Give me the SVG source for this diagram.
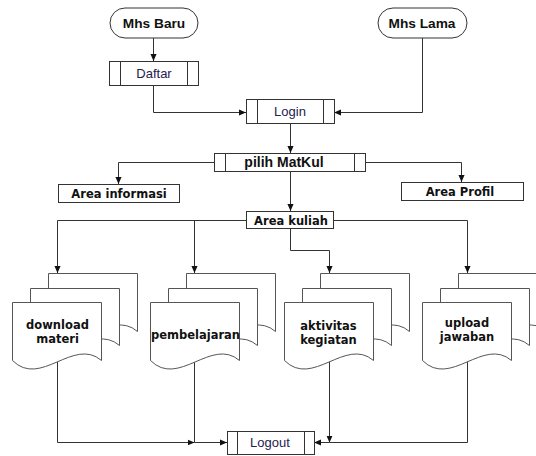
<svg xmlns="http://www.w3.org/2000/svg" width="536" height="456" viewBox="0 0 536 456">
  <style>
    .box { fill: #ffffff; stroke: #333333; stroke-width: 1; }
    .sheet { fill: #ffffff; stroke: #555555; stroke-width: 1; }
    .bar { stroke: #333333; stroke-width: 1; fill: none; }
    .wire { fill: none; stroke: #333333; stroke-width: 1; }
    .arial-b { font-family: "Liberation Sans", Arial, sans-serif; font-weight: bold; fill: #111111; text-anchor: middle; }
    .arial { font-family: "Liberation Sans", Arial, sans-serif; font-size: 13px; fill: #26204f; text-anchor: middle; }
    .deja { font-family: "DejaVu Sans", Verdana, sans-serif; font-weight: bold; font-size: 11.5px; fill: #111111; text-anchor: middle; }
  </style>
  <defs>
    <marker id="arrow" viewBox="0 0 8 8" refX="8" refY="4" markerWidth="7" markerHeight="7" markerUnits="userSpaceOnUse" orient="auto">
      <path d="M0,0.5 L8,4 L0,7.5 Z" fill="#111111"/>
    </marker>
    <!-- one stacked multi-document shape, origin at the back sheet's top-left -->
    <g id="docstack">
      <path class="sheet" d="M0,58 L0,0 L89,0 L89,58 C61,34 28,86 0,58 Z"/>
      <path class="sheet" d="M-18,72 L-18,15 L71,15 L71,72 C43,48 10,100 -18,72 Z"/>
      <path class="sheet" d="M-36,87 L-36,29 L53,29 L53,87 C25,63 -8,115 -36,87 Z"/>
    </g>
  </defs>

  <!-- connectors -->
  <g id="connectors">
    <path class="wire" d="M153.5,38 V61" marker-end="url(#arrow)"/>
    <path class="wire" d="M153.5,85 V112.5 H246" marker-end="url(#arrow)"/>
    <path class="wire" d="M422.5,38 V112.5 H334" marker-end="url(#arrow)"/>
    <path class="wire" d="M290.5,123 V153" marker-end="url(#arrow)"/>
    <path class="wire" d="M214,162.5 H118.5 V184" marker-end="url(#arrow)"/>
    <path class="wire" d="M365,162.5 H461.5 V182" marker-end="url(#arrow)"/>
    <path class="wire" d="M290.5,171 V211" marker-end="url(#arrow)"/>
    <path class="wire" d="M246,220.5 H57.5 V273" marker-end="url(#arrow)"/>
    <path class="wire" d="M194.5,220.5 V273" marker-end="url(#arrow)"/>
    <path class="wire" d="M290.5,228 V250.5 H329.5 V273" marker-end="url(#arrow)"/>
    <path class="wire" d="M334,220.5 H467.5 V273" marker-end="url(#arrow)"/>
    <path class="wire" d="M57.5,362 V442.5 H194.5" marker-end="url(#arrow)"/>
    <path class="wire" d="M194.5,360 V442.5 H227" marker-end="url(#arrow)"/>
    <path class="wire" d="M467.5,361 V442.5 H329.5"/>
    <path class="wire" d="M329.5,442.5 H314" marker-end="url(#arrow)"/>
    <path class="wire" d="M329.5,361 V442.5" marker-end="url(#arrow)"/>
  </g>

  <g id="mhs-baru">
    <rect class="box" x="110" y="8" width="88" height="30" rx="15"/>
    <text class="arial-b" x="154" y="28" font-size="13.7">Mhs Baru</text>
  </g>
  <g id="mhs-lama">
    <rect class="box" x="378" y="8" width="89" height="30" rx="15"/>
    <text class="arial-b" x="422" y="28" font-size="13.7">Mhs Lama</text>
  </g>

  <g id="daftar">
    <rect class="box" x="109.5" y="61.5" width="89" height="24"/>
    <path class="bar" d="M120.5,61.5 V85.5 M187.5,61.5 V85.5"/>
    <text class="arial" x="154" y="78">Daftar</text>
  </g>

  <g id="login">
    <rect class="box" x="246.5" y="99.5" width="88" height="24"/>
    <path class="bar" d="M257.5,99.5 V123.5 M323.5,99.5 V123.5"/>
    <text class="arial" x="290" y="116">Login</text>
  </g>

  <g id="pilih-matkul">
    <rect class="box" x="214.5" y="153.5" width="151" height="18"/>
    <path class="bar" d="M225.5,153.5 V171.5 M354.5,153.5 V171.5"/>
    <text class="arial-b" x="284" y="167" font-size="14">pilih MatKul</text>
  </g>

  <g id="area-informasi">
    <rect class="box" x="58.5" y="184.5" width="121" height="18"/>
    <text class="deja" x="119" y="198">Area informasi</text>
  </g>

  <g id="area-profil">
    <rect class="box" x="401.5" y="182.5" width="122" height="18"/>
    <text class="deja" x="460" y="196">Area Profil</text>
  </g>

  <g id="area-kuliah">
    <rect class="box" x="246.5" y="211.5" width="87" height="17"/>
    <text class="deja" x="291" y="224.5">Area kuliah</text>
  </g>

  <g id="download-materi">
    <use href="#docstack" x="48.5" y="273.5"/>
    <text class="deja" x="57.5" y="329">download</text>
    <text class="deja" x="57.5" y="343">materi</text>
  </g>

  <g id="pembelajaran">
    <use href="#docstack" x="186.5" y="273.5"/>
    <text class="deja" x="195.5" y="339">pembelajaran</text>
  </g>

  <g id="aktivitas-kegiatan">
    <use href="#docstack" x="320.5" y="273.5"/>
    <text class="deja" x="328.5" y="330">aktivitas</text>
    <text class="deja" x="328.5" y="344">kegiatan</text>
  </g>

  <g id="upload-jawaban">
    <use href="#docstack" x="458.5" y="273.5"/>
    <text class="deja" x="467" y="327">upload</text>
    <text class="deja" x="467" y="341">jawaban</text>
  </g>

  <g id="logout">
    <rect class="box" x="227.5" y="431.5" width="87" height="23"/>
    <path class="bar" d="M237.5,431.5 V454.5 M304.5,431.5 V454.5"/>
    <text class="arial" x="270" y="447">Logout</text>
  </g>
</svg>
